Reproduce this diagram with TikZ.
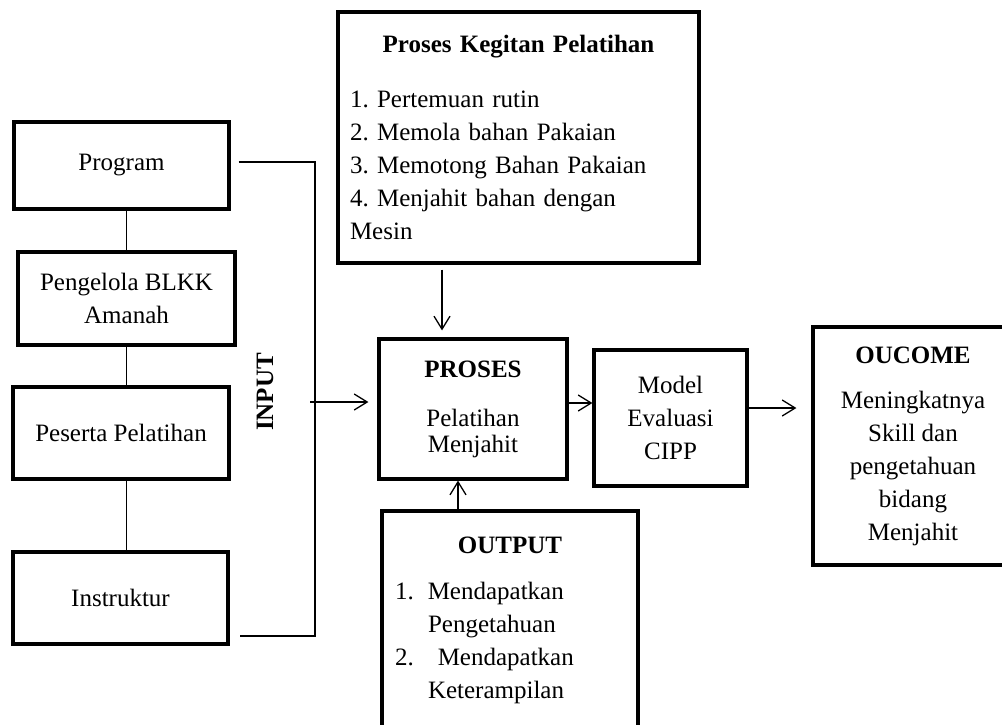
\documentclass[tikz,border=0pt]{standalone}
\usepackage{fontspec}
\setmainfont{Liberation Serif}
\usetikzlibrary{arrows.meta}
\frenchspacing
\tikzset{
    kotak/.style={draw, line width=3.2pt, align=center, inner sep=0pt, font=\fontsize{25}{33}\selectfont},
    garis/.style={line width=1.3pt},
    panah/.style={garis, -{Straight Barb[length=13pt,width=16pt]}}
}
\begin{document}
\begin{tikzpicture}[x=1pt, y=-1pt]
            \useasboundingbox (0,0) rectangle (1002,724);
            \clip (0,0) rectangle (1002,724);

            \node[kotak, minimum width=215pt, minimum height=87pt] (program) at (121.5,165.5) {Program};
            \node[kotak, minimum width=217pt, minimum height=93pt] (pengelola) at (126.5,298.5) {Pengelola BLKK\\Amanah};
            \node[kotak, minimum width=216pt, minimum height=92pt] (peserta) at (121,433) {Peserta Pelatihan};
            \node[kotak, minimum width=215pt, minimum height=92pt] (instruktur) at (120.5,598) {Instruktur};
            \node[font=\fontsize{25}{30}\selectfont\bfseries, rotate=90] (input) at (265,392) {INPUT};

            \node[kotak, align=left, text width=337pt, inner xsep=12pt, minimum width=361pt, minimum height=251pt] (kegiatan) at (518.5,137.5)
                {\makebox[337pt]{\textbf{Proses Kegitan Pelatihan}}\\[22pt]1. Pertemuan rutin\\2. Memola bahan Pakaian\\3. Memotong Bahan Pakaian\\4. Menjahit bahan dengan\\Mesin};
            \node[kotak, font=\fontsize{25}{26}\selectfont, minimum width=188pt, minimum height=140pt] (proses) at (473,409)
                {\textbf{PROSES}\\[23pt]Pelatihan\\Menjahit};
            \node[kotak, minimum width=153pt, minimum height=136pt] (model) at (670.5,418) {Model\\Evaluasi\\CIPP};
            \node[kotak, minimum width=200pt, minimum height=238pt] (oucome) at (913,446)
                {\textbf{OUCOME}\\[12pt]Meningkatnya\\Skill dan\\pengetahuan\\bidang\\Menjahit};
            \node[kotak, align=left, text width=230pt, inner xsep=13pt, minimum width=256pt, minimum height=218pt] (output) at (510,620)
                {\makebox[230pt]{\textbf{OUTPUT}}\\[13pt]1.\hspace{14pt}Mendapatkan\\\hspace*{33pt}Pengetahuan\\2.\hspace{24pt}Mendapatkan\\\hspace*{33pt}Keterampilan};

            \coordinate (inputAtas) at (315,162);
            \coordinate (inputBawah) at (315,636);
            \coordinate (inputTengah) at (310,402);

            \draw[garis] (pengelola.north) -- (pengelola.north |- program.south);
            \draw[garis] (pengelola.south) -- (pengelola.south |- peserta.north);
            \draw[garis] (peserta.south -| pengelola.south) -- (instruktur.north -| pengelola.south);
            \draw[garis] ([xshift=8pt]program.east |- inputAtas) -- (inputAtas) -- (inputBawah) -- ([xshift=10pt]instruktur.east |- inputBawah);
            \draw[panah, shorten >=9pt] (inputTengah) -- (inputTengah -| proses.west);
            \draw[panah, shorten <=5pt, shorten >=7pt] ([xshift=-31pt]proses.north |- kegiatan.south) -- ([xshift=-31pt]proses.north);
            \draw[panah] ([xshift=-15pt]proses.south |- output.north) -- ([xshift=-15pt]proses.south);
            \draw[panah] ([yshift=6pt]proses.east) -- ([yshift=6pt]proses.east -| model.west);
            \draw[panah, shorten >=15pt] ([yshift=10pt]model.east) -- ([yshift=10pt]model.east -| oucome.west);
        \end{tikzpicture}
\end{document}
